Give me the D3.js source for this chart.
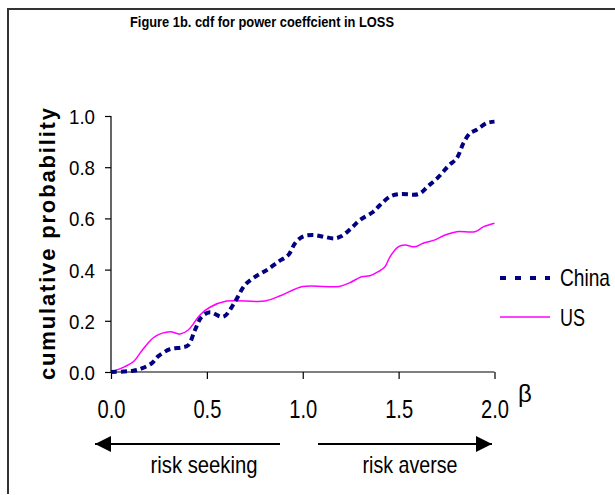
<!DOCTYPE html>
<html>
<head>
<meta charset="utf-8">
<script src="https://cdn.jsdelivr.net/npm/d3@7"></script>
<style>
  body { margin: 0; background: #fff; }
  svg text { font-family: "Liberation Sans", Arial, sans-serif; fill: #000; }
</style>
</head>
<body>
<script>
// values
var betaChina = [0, 0.116, 0.16, 0.212, 0.247, 0.308, 0.369, 0.403, 0.438, 0.473, 0.516, 0.586, 0.647, 0.699, 0.76, 0.812, 0.873, 0.925, 0.96, 1.0, 1.055, 1.107, 1.168, 1.203, 1.246, 1.299, 1.368, 1.403, 1.455, 1.507, 1.603, 1.655, 1.707, 1.759, 1.803, 1.838, 1.872, 1.907, 1.959, 2.0];
var cdfChina = [0, 0.005, 0.014, 0.034, 0.062, 0.089, 0.096, 0.105, 0.164, 0.216, 0.233, 0.216, 0.275, 0.34, 0.376, 0.398, 0.431, 0.457, 0.503, 0.529, 0.535, 0.529, 0.522, 0.531, 0.557, 0.594, 0.626, 0.652, 0.685, 0.695, 0.695, 0.727, 0.761, 0.805, 0.835, 0.894, 0.933, 0.946, 0.972, 0.978];
var betaUS = [0, 0.07, 0.116, 0.168, 0.229, 0.308, 0.36, 0.403, 0.464, 0.516, 0.603, 0.803, 0.89, 1.0, 1.19, 1.246, 1.307, 1.35, 1.394, 1.429, 1.455, 1.498, 1.533, 1.585, 1.628, 1.69, 1.742, 1.803, 1.898, 1.942, 2.0];
var cdfUS = [0, 0.02, 0.04, 0.09, 0.138, 0.157, 0.148, 0.164, 0.223, 0.253, 0.277, 0.277, 0.30, 0.334, 0.334, 0.349, 0.372, 0.376, 0.392, 0.411, 0.45, 0.489, 0.496, 0.489, 0.503, 0.516, 0.535, 0.548, 0.548, 0.567, 0.581];
var xTicks = [0, 0.5, 1.0, 1.5, 2.0];
var yTicks = [0, 0.2, 0.4, 0.6, 0.8, 1.0];
var seriesNames = ["China", "US"];

var W = 615, H = 495;
var margin = { top: 116, left: 111 },
    width = 494.5 - margin.left,
    height = 372 - margin.top;

var svg = d3.select("body").append("svg")
    .attr("width", W)
    .attr("height", H);

// outer frame (right and bottom edges fall outside the picture)
svg.append("path")
    .attr("d", "M8,494 L8,9 L615,9")
    .attr("fill", "none")
    .attr("stroke", "#333")
    .attr("stroke-width", 2);

// the original uses a narrow face, so squeeze the glyphs to the measured widths
svg.append("text")
    .attr("x", 262)
    .attr("y", 27)
    .attr("text-anchor", "middle")
    .attr("textLength", 264)
    .attr("lengthAdjust", "spacingAndGlyphs")
    .style("font-size", "15px")
    .style("font-weight", "bold")
    .text("Figure 1b. cdf for power coeffcient in LOSS");

var g = svg.append("g")
    .attr("transform", "translate(" + margin.left + "," + margin.top + ")");

var xScale = d3.scaleLinear().domain([0, 2]).range([0, width]);
var yScale = d3.scaleLinear().domain([0, 1]).range([height, 0]);

var xAxis = d3.axisBottom(xScale).tickValues(xTicks).tickSize(7).tickFormat(d3.format(".1f"));
var yAxis = d3.axisLeft(yScale).tickValues(yTicks).tickSize(6).tickFormat(d3.format(".1f"));

var gx = g.append("g")
    .attr("transform", "translate(0," + height + ")")
    .call(xAxis);
gx.select(".domain").attr("d", "M0,0H" + width);
gx.selectAll("text")
    .attr("y", 46)
    .attr("dy", 0)
    .attr("textLength", 28)
    .attr("lengthAdjust", "spacingAndGlyphs")
    .style("font-size", "25px");

var gy = g.append("g").call(yAxis);
gy.select(".domain").attr("d", "M0," + height + "V0");
gy.selectAll("text")
    .attr("x", -16)
    .attr("dy", "0.36em")
    .attr("textLength", 26)
    .attr("lengthAdjust", "spacingAndGlyphs")
    .style("font-size", "21px");

g.selectAll(".domain, .tick line").attr("stroke", "#000").attr("stroke-width", 1.2);

svg.append("text")
    .attr("transform", "translate(55,244) rotate(-90)")
    .attr("text-anchor", "middle")
    .attr("textLength", 272)
    .attr("lengthAdjust", "spacing")
    .style("font-size", "22px")
    .style("font-weight", "bold")
    .text("cumulative probability");

svg.append("text")
    .attr("x", 518)
    .attr("y", 402)
    .style("font-size", "24px")
    .text("\u03b2");

var line = d3.line()
    .x(function (d) { return xScale(d[0]); })
    .y(function (d) { return yScale(d[1]); })
    .curve(d3.curveCatmullRom);

var usData = betaUS.map(function (b, i) { return [b, cdfUS[i]]; });
var chinaData = betaChina.map(function (b, i) { return [b, cdfChina[i]]; });

g.append("path")
    .datum(usData)
    .attr("fill", "none")
    .attr("stroke", "#ff00ff")
    .attr("stroke-width", 1.5)
    .attr("d", line);

g.append("path")
    .datum(chinaData)
    .attr("fill", "none")
    .attr("stroke", "#000080")
    .attr("stroke-width", 4)
    .attr("stroke-dasharray", "6,4")
    .attr("d", line);

// legend
var legend = svg.append("g");
legend.append("line")
    .attr("x1", 500).attr("x2", 550).attr("y1", 278).attr("y2", 278)
    .attr("stroke", "#000080").attr("stroke-width", 4)
    .attr("stroke-dasharray", "6,9");
legend.append("text")
    .attr("x", 560).attr("y", 286)
    .attr("textLength", 50)
    .attr("lengthAdjust", "spacingAndGlyphs")
    .style("font-size", "24px")
    .text(seriesNames[0]);
legend.append("line")
    .attr("x1", 500).attr("x2", 550).attr("y1", 317).attr("y2", 317)
    .attr("stroke", "#ff00ff").attr("stroke-width", 1.5);
legend.append("text")
    .attr("x", 560).attr("y", 326)
    .attr("textLength", 25)
    .attr("lengthAdjust", "spacingAndGlyphs")
    .style("font-size", "24px")
    .text(seriesNames[1]);

// risk arrows
var defs = svg.append("defs");
defs.append("marker")
    .attr("id", "arrow")
    .attr("viewBox", "0 0 10 10")
    .attr("refX", 10).attr("refY", 5)
    .attr("markerWidth", 9).attr("markerHeight", 8)
    .attr("markerUnits", "strokeWidth")
    .attr("orient", "auto")
    .append("path")
    .attr("d", "M0,0 L10,5 L0,10 Z")
    .attr("fill", "#000");

svg.append("line")
    .attr("x1", 280).attr("x2", 95).attr("y1", 444).attr("y2", 444)
    .attr("stroke", "#000").attr("stroke-width", 2)
    .attr("marker-end", "url(#arrow)");
svg.append("line")
    .attr("x1", 318).attr("x2", 492).attr("y1", 444).attr("y2", 444)
    .attr("stroke", "#000").attr("stroke-width", 2)
    .attr("marker-end", "url(#arrow)");

svg.append("text")
    .attr("x", 204).attr("y", 473)
    .attr("text-anchor", "middle")
    .attr("textLength", 107)
    .attr("lengthAdjust", "spacingAndGlyphs")
    .style("font-size", "24px")
    .text("risk seeking");
svg.append("text")
    .attr("x", 410).attr("y", 473)
    .attr("text-anchor", "middle")
    .attr("textLength", 95)
    .attr("lengthAdjust", "spacingAndGlyphs")
    .style("font-size", "24px")
    .text("risk averse");
</script>
</body>
</html>
